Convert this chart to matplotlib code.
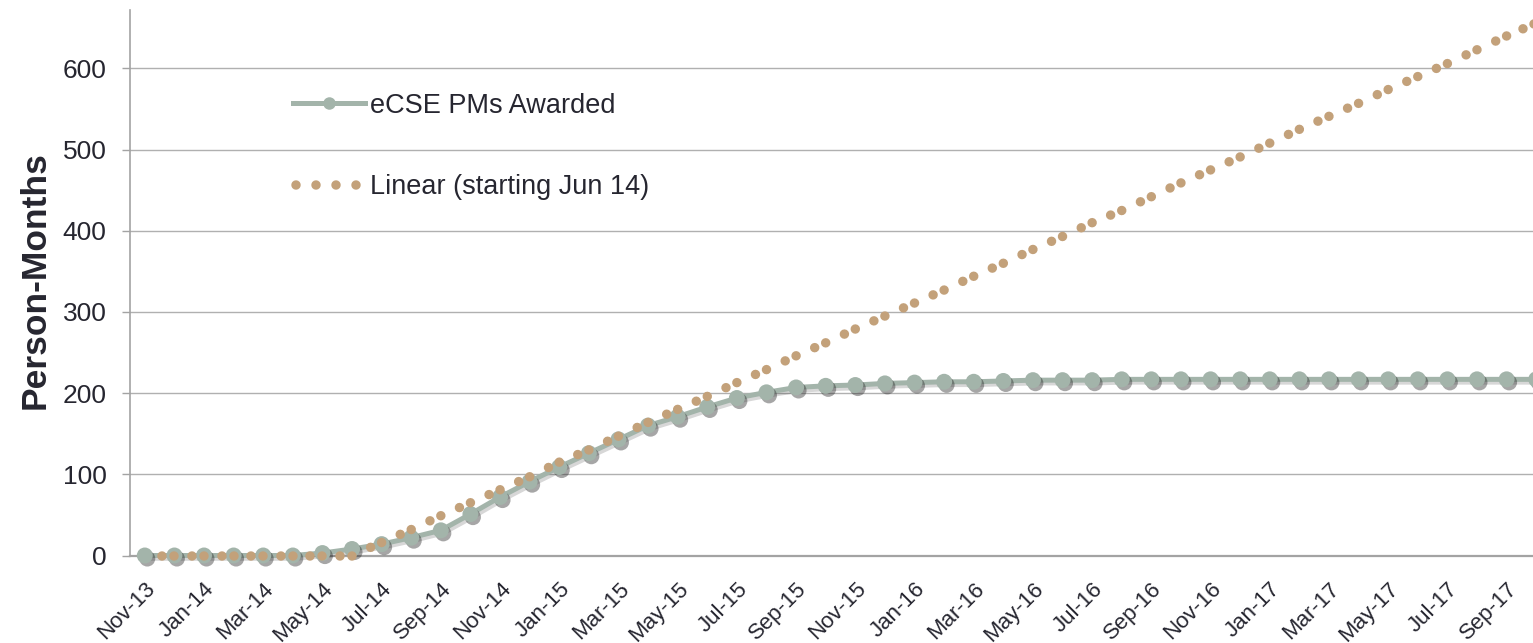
import numpy as np
import pandas as pd
import matplotlib.pyplot as plt
import matplotlib.patheffects as pe
import matplotlib.transforms as mtrans
from matplotlib.lines import Line2D

plt.rcParams['font.family'] = ['Liberation Sans', 'DejaVu Sans']
plt.rcParams['lines.scale_dashes'] = False

# monthly axis, Nov-13 .. Oct-17
months = list(pd.date_range('2013-11-01', periods=48, freq='MS').strftime('%b-%y'))

# eCSE person-months awarded (cumulative)
awarded = [0, 0, 0, 0, 0, 0, 3, 8, 14, 22, 31, 51, 72, 91, 109, 126,
           143, 160, 171, 183, 194, 201, 207, 209, 210, 212, 213, 214, 214, 215,
           216, 216, 216, 217, 217, 217, 217, 217, 217, 217, 217, 217, 217, 217,
           217, 217, 217, 217]

# linear trend (starting Jun 14)
linear = [0, 0, 0, 0, 0, 0, 0, 0, 16, 32, 49, 65, 81, 97, 115, 130,
          147, 164, 180, 196, 213, 229, 246, 262, 279, 295, 311, 327, 344, 360,
          377, 393, 410, 425, 442, 459, 475, 491, 508, 525, 541, 557, 574, 590,
          606, 623, 640, 656]

PX = 0.72  # points per pixel at dpi 100
green = '#a3b4aa'
tan = '#c3a17a'
textc = '#262630'
grey = '#a3a3a3'
DOT = 0.01  # near zero dash -> round dot

fig = plt.figure(figsize=(15.33, 6.43), dpi=100)
ax = fig.add_axes([130 / 1533, 87.5 / 643, 1421 / 1533, 545.5 / 643])

x = np.arange(len(months))

ax.plot(x, awarded, color=green, lw=3.6, solid_joinstyle='round', clip_on=False, zorder=3,
        path_effects=[pe.SimpleLineShadow(offset=(1.5, -2), shadow_color='#222222', alpha=0.18),
                      pe.Normal()])
ax.plot(x, awarded, 'o', color=green, ms=11.5, mew=0, clip_on=False, zorder=4,
        path_effects=[pe.SimplePatchShadow(offset=(1.8, -2.2), shadow_rgbFace='#222222', alpha=0.4),
                      pe.Normal()])

# excel restarts the dot pattern on every segment -> pairs of dots
for i in range(len(x) - 1):
    ax.plot([x[i + 1], x[i]], [linear[i + 1], linear[i]], color=tan, lw=9.5 * PX,
            dash_capstyle='round', linestyle=(0, (DOT, 12 * PX, DOT, 300 * PX)),
            clip_on=False, zorder=5)

h1 = Line2D([], [], color=green, lw=3.6, marker='o', ms=9, mew=0)
h2 = Line2D([], [], color=tan, lw=9.5 * PX, dash_capstyle='round',
            linestyle=(17 * PX, (DOT, 20 * PX - DOT)))
ax.legend([h1, h2], ['eCSE PMs Awarded', 'Linear (starting Jun 14)'],
          loc='center left', bbox_to_anchor=(293 / 1533, 1 - 146.5 / 643),
          bbox_transform=fig.transFigure, frameon=False, fontsize=19.5,
          handlelength=2.65, handletextpad=0.2, labelspacing=2.05,
          borderpad=0, borderaxespad=0, labelcolor=textc, numpoints=1)

ax.set_xlim(-0.5, 47.5)
ax.set_ylim(0, 672)
ax.set_yticks(range(0, 700, 100))
ax.set_xticks(x[::2])
ax.set_xticklabels(months[::2], rotation=45, ha='right', rotation_mode='anchor')
shift = mtrans.ScaledTranslation(-2 / 100, 0, fig.dpi_scale_trans)
for lab in ax.get_xticklabels():
    lab.set_transform(lab.get_transform() + shift)

ax.grid(axis='y', color='#b0b0b0', lw=1.0)
ax.set_axisbelow(True)
for s in ['top', 'right']:
    ax.spines[s].set_visible(False)
ax.spines['left'].set_color(grey)
ax.spines['left'].set_linewidth(1.2)
ax.spines['bottom'].set_color(grey)
ax.spines['bottom'].set_linewidth(1.6)

ax.tick_params(axis='y', length=5.8, width=1, color=grey, labelsize=19,
               labelcolor=textc, pad=11)
ax.tick_params(axis='x', length=0, labelsize=16, labelcolor=textc, pad=16.5)

ax.set_ylabel('Person-Months', fontsize=25.5, fontweight='bold', color=textc)
ax.yaxis.set_label_coords((52 - 130) / 1421, (555.5 - 280) / 545.5)

fig.savefig('out.png', dpi=100)
